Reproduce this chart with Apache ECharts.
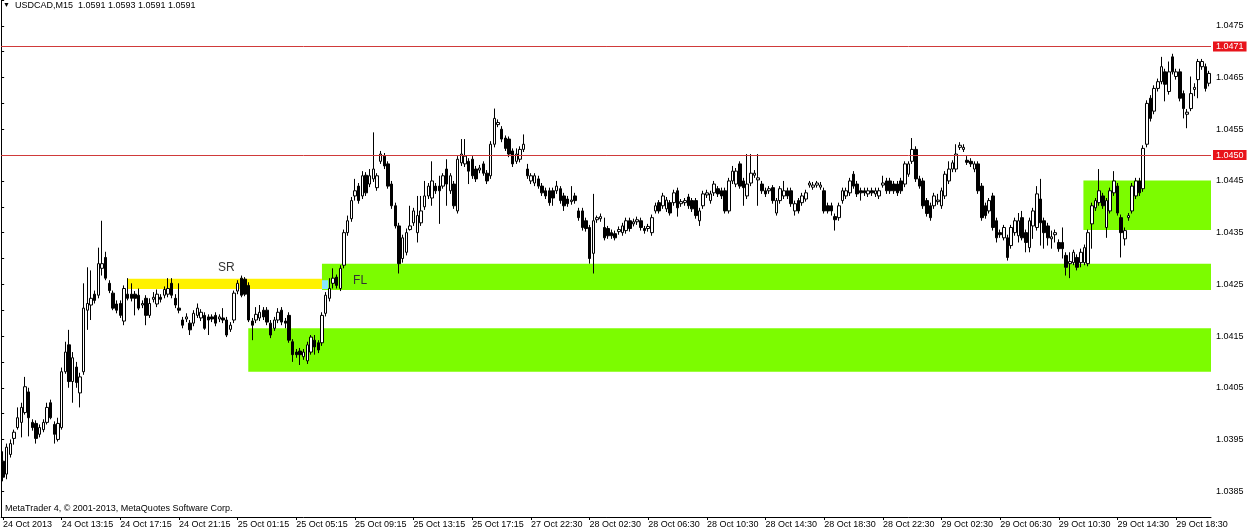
<!DOCTYPE html>
<html>
<head>
<meta charset="utf-8">
<script src="https://cdn.jsdelivr.net/npm/echarts@6/dist/echarts.min.js"></script>
<style>
html,body{margin:0;padding:0;background:#fff;}
#chart{width:1247px;height:530px;}
</style>
</head>
<body>
<div id="chart"></div>
<script>
// ---- Candle data (USDCAD, M15) ----
const opens = [
1.03908,1.03883,1.03921,1.03952,1.03973,1.03983,1.04002,1.04042,1.03983,1.03981,
1.03960,1.03969,1.03983,1.04021,1.03979,1.03950,1.03973,1.04081,1.04133,1.04062,
1.04090,1.04040,1.04081,1.04200,1.04210,1.04231,1.04229,1.04281,1.04302,1.04252,
1.04233,1.04212,1.04213,1.04179,1.04231,1.04231,1.04231,1.04229,1.04210,1.04223,
1.04190,1.04221,1.04212,1.04225,1.04229,1.04231,1.04252,1.04223,1.04204,1.04181,
1.04183,1.04175,1.04175,1.04190,1.04185,1.04190,1.04187,1.04187,1.04190,1.04183,
1.04185,1.04181,1.04163,1.04181,1.04237,1.04262,1.04260,1.04248,1.04179,1.04181,
1.04185,1.04200,1.04200,1.04175,1.04165,1.04181,1.04200,1.04179,1.04190,1.04139,
1.04119,1.04121,1.04110,1.04102,1.04119,1.04142,1.04137,1.04137,1.04194,1.04223,
1.04252,1.04264,1.04242,1.04287,1.04350,1.04377,1.04421,1.04440,1.04421,1.04461,
1.04444,1.04454,1.04437,1.04488,1.04498,1.04483,1.04444,1.04402,1.04363,1.04300,
1.04312,1.04356,1.04369,1.04350,1.04369,1.04400,1.04421,1.04417,1.04440,1.04440,
1.04440,1.04473,1.04431,1.04444,1.04392,1.04485,1.04483,1.04488,1.04492,1.04473,
1.04471,1.04483,1.04465,1.04460,1.04521,1.04559,1.04550,1.04533,1.04531,1.04508,
1.04488,1.04492,1.04511,1.04473,1.04450,1.04446,1.04454,1.04440,1.04431,1.04431,
1.04431,1.04431,1.04435,1.04421,1.04415,1.04410,1.04421,1.04392,1.04392,1.04373,
1.04360,1.04310,1.04375,1.04377,1.04360,1.04358,1.04350,1.04348,1.04352,1.04350,
1.04354,1.04373,1.04367,1.04371,1.04373,1.04358,1.04358,1.04350,1.04392,1.04408,
1.04402,1.04396,1.04408,1.04408,1.04431,1.04406,1.04408,1.04419,1.04412,1.04412,
1.04373,1.04402,1.04423,1.04412,1.04427,1.04435,1.04431,1.04431,1.04392,1.04450,
1.04444,1.04483,1.04450,1.04421,1.04446,1.04461,1.04452,1.04444,1.04431,1.04431,
1.04437,1.04388,1.04412,1.04421,1.04431,1.04431,1.04392,1.04412,1.04408,1.04415,
1.04442,1.04438,1.04442,1.04438,1.04431,1.04402,1.04402,1.04381,1.04379,1.04412,
1.04421,1.04427,1.04463,1.04444,1.04431,1.04431,1.04425,1.04431,1.04425,1.04421,
1.04442,1.04450,1.04450,1.04444,1.04444,1.04450,1.04444,1.04463,1.04488,1.04511,
1.04454,1.04450,1.04412,1.04402,1.04402,1.04410,1.04402,1.04421,1.04450,1.04473,
1.04473,1.04515,1.04511,1.04490,1.04488,1.04473,1.04483,1.04440,1.04402,1.04392,
1.04421,1.04373,1.04350,1.04340,1.04340,1.04325,1.04350,1.04344,1.04379,1.04350,
1.04321,1.04363,1.04360,1.04415,1.04373,1.04363,1.04338,1.04346,1.04331,1.04331,
1.04306,1.04290,1.04292,1.04302,1.04292,1.04292,1.04290,1.04367,1.04398,1.04408,
1.04421,1.04360,1.04392,1.04427,1.04440,1.04379,1.04338,1.04379,1.04392,1.04421,
1.04450,1.04435,1.04521,1.04610,1.04585,1.04629,1.04642,1.04661,1.04623,1.04690,
1.04652,1.04661,1.04619,1.04579,1.04590,1.04627,1.04646,1.04671,1.04671,1.04639
];
const closes = [
1.03877,1.03935,1.03942,1.03964,1.03992,1.04012,1.04052,1.03992,1.03973,1.03952,
1.03973,1.03983,1.04012,1.03992,1.03960,1.03981,1.04081,1.04119,1.04062,1.04108,
1.04060,1.04071,1.04204,1.04213,1.04223,1.04219,1.04290,1.04290,1.04262,1.04238,
1.04204,1.04200,1.04190,1.04242,1.04223,1.04223,1.04223,1.04204,1.04213,1.04190,
1.04213,1.04225,1.04231,1.04221,1.04240,1.04242,1.04229,1.04210,1.04200,1.04171,
1.04187,1.04162,1.04194,1.04204,1.04196,1.04165,1.04181,1.04183,1.04175,1.04187,
1.04181,1.04152,1.04171,1.04233,1.04252,1.04229,1.04231,1.04181,1.04171,1.04192,
1.04196,1.04187,1.04177,1.04152,1.04181,1.04196,1.04177,1.04175,1.04142,1.04114,
1.04114,1.04114,1.04119,1.04133,1.04148,1.04129,1.04123,1.04190,1.04229,1.04242,
1.04262,1.04248,1.04281,1.04350,1.04373,1.04412,1.04431,1.04412,1.04460,1.04427,
1.04460,1.04473,1.04460,1.04502,1.04479,1.04440,1.04402,1.04363,1.04290,1.04340,
1.04350,1.04363,1.04392,1.04383,1.04392,1.04421,1.04440,1.04450,1.04431,1.04431,
1.04460,1.04444,1.04460,1.04402,1.04492,1.04502,1.04498,1.04469,1.04460,1.04454,
1.04475,1.04465,1.04450,1.04521,1.04571,1.04563,1.04531,1.04513,1.04502,1.04483,
1.04502,1.04511,1.04521,1.04460,1.04460,1.04460,1.04440,1.04427,1.04421,1.04408,
1.04417,1.04440,1.04412,1.04402,1.04406,1.04413,1.04412,1.04379,1.04360,1.04358,
1.04300,1.04373,1.04379,1.04381,1.04340,1.04344,1.04344,1.04340,1.04356,1.04363,
1.04373,1.04358,1.04371,1.04375,1.04360,1.04354,1.04362,1.04379,1.04402,1.04392,
1.04421,1.04413,1.04388,1.04427,1.04398,1.04410,1.04412,1.04402,1.04396,1.04383,
1.04392,1.04425,1.04427,1.04425,1.04444,1.04425,1.04421,1.04392,1.04450,1.04469,
1.04469,1.04440,1.04437,1.04444,1.04465,1.04465,1.04456,1.04431,1.04425,1.04435,
1.04412,1.04412,1.04435,1.04431,1.04421,1.04406,1.04406,1.04392,1.04421,1.04427,
1.04446,1.04442,1.04446,1.04442,1.04392,1.04392,1.04392,1.04375,1.04402,1.04431,
1.04431,1.04450,1.04440,1.04425,1.04427,1.04427,1.04431,1.04427,1.04431,1.04431,
1.04446,1.04431,1.04431,1.04431,1.04427,1.04431,1.04483,1.04483,1.04511,1.04454,
1.04440,1.04402,1.04387,1.04379,1.04421,1.04413,1.04431,1.04463,1.04473,1.04485,
1.04502,1.04519,1.04515,1.04486,1.04483,1.04483,1.04431,1.04379,1.04383,1.04412,
1.04360,1.04340,1.04346,1.04360,1.04302,1.04360,1.04373,1.04373,1.04340,1.04331,
1.04373,1.04392,1.04425,1.04369,1.04350,1.04340,1.04342,1.04350,1.04319,1.04319,
1.04283,1.04294,1.04312,1.04283,1.04312,1.04321,1.04350,1.04402,1.04412,1.04431,
1.04402,1.04412,1.04431,1.04450,1.04388,1.04350,1.04354,1.04383,1.04440,1.04450,
1.04427,1.04513,1.04600,1.04571,1.04629,1.04642,1.04671,1.04637,1.04661,1.04661,
1.04661,1.04610,1.04590,1.04583,1.04619,1.04631,1.04681,1.04681,1.04629,1.04658
];
const lows = [
1.03869,1.03873,1.03915,1.03940,1.03969,1.03954,1.03998,1.03956,1.03967,1.03942,
1.03954,1.03964,1.03979,1.03989,1.03942,1.03946,1.03969,1.04077,1.04050,1.04021,
1.04050,1.04012,1.04075,1.04162,1.04181,1.04213,1.04223,1.04267,1.04258,1.04233,
1.04200,1.04194,1.04185,1.04171,1.04219,1.04217,1.04190,1.04200,1.04204,1.04171,
1.04185,1.04215,1.04206,1.04215,1.04223,1.04225,1.04223,1.04204,1.04194,1.04165,
1.04177,1.04152,1.04169,1.04185,1.04179,1.04162,1.04152,1.04177,1.04169,1.04177,
1.04175,1.04148,1.04158,1.04175,1.04231,1.04225,1.04227,1.04177,1.04142,1.04175,
1.04179,1.04181,1.04171,1.04146,1.04160,1.04175,1.04171,1.04165,1.04137,1.04100,
1.04108,1.04094,1.04104,1.04096,1.04114,1.04114,1.04117,1.04131,1.04188,1.04217,
1.04242,1.04242,1.04237,1.04281,1.04344,1.04371,1.04412,1.04406,1.04415,1.04421,
1.04438,1.04448,1.04431,1.04483,1.04473,1.04435,1.04396,1.04358,1.04271,1.04292,
1.04306,1.04354,1.04363,1.04331,1.04363,1.04394,1.04415,1.04402,1.04425,1.04367,
1.04435,1.04402,1.04425,1.04396,1.04387,1.04479,1.04477,1.04444,1.04454,1.04448,
1.04465,1.04460,1.04444,1.04454,1.04515,1.04554,1.04525,1.04508,1.04496,1.04477,
1.04483,1.04486,1.04506,1.04454,1.04444,1.04440,1.04435,1.04421,1.04415,1.04402,
1.04402,1.04425,1.04406,1.04392,1.04400,1.04404,1.04406,1.04373,1.04354,1.04352,
1.04290,1.04271,1.04369,1.04371,1.04335,1.04338,1.04338,1.04335,1.04346,1.04344,
1.04348,1.04352,1.04362,1.04365,1.04354,1.04348,1.04352,1.04344,1.04387,1.04387,
1.04396,1.04390,1.04383,1.04402,1.04381,1.04400,1.04402,1.04396,1.04390,1.04377,
1.04363,1.04396,1.04417,1.04406,1.04421,1.04419,1.04415,1.04387,1.04387,1.04444,
1.04438,1.04435,1.04402,1.04415,1.04440,1.04456,1.04402,1.04425,1.04419,1.04425,
1.04406,1.04383,1.04406,1.04415,1.04415,1.04400,1.04383,1.04387,1.04402,1.04410,
1.04437,1.04433,1.04437,1.04433,1.04387,1.04387,1.04383,1.04354,1.04373,1.04406,
1.04415,1.04421,1.04435,1.04419,1.04412,1.04421,1.04419,1.04421,1.04419,1.04415,
1.04437,1.04425,1.04425,1.04425,1.04421,1.04425,1.04438,1.04458,1.04483,1.04448,
1.04435,1.04396,1.04381,1.04373,1.04396,1.04404,1.04396,1.04415,1.04444,1.04467,
1.04467,1.04510,1.04506,1.04481,1.04477,1.04467,1.04425,1.04373,1.04377,1.04387,
1.04354,1.04331,1.04340,1.04335,1.04296,1.04319,1.04344,1.04331,1.04335,1.04312,
1.04312,1.04338,1.04354,1.04325,1.04319,1.04325,1.04319,1.04331,1.04313,1.04300,
1.04267,1.04262,1.04287,1.04277,1.04283,1.04287,1.04285,1.04319,1.04392,1.04402,
1.04396,1.04340,1.04387,1.04421,1.04383,1.04302,1.04325,1.04373,1.04387,1.04415,
1.04421,1.04429,1.04515,1.04565,1.04579,1.04623,1.04637,1.04604,1.04617,1.04656,
1.04646,1.04604,1.04571,1.04552,1.04585,1.04614,1.04610,1.04665,1.04623,1.04633
];
const highs = [
1.03927,1.03942,1.03950,1.03969,1.04012,1.04021,1.04071,1.04050,1.03989,1.03987,
1.03979,1.03989,1.04021,1.04027,1.03985,1.03992,1.04089,1.04139,1.04162,1.04119,
1.04100,1.04079,1.04252,1.04283,1.04277,1.04238,1.04321,1.04373,1.04313,1.04258,
1.04238,1.04219,1.04219,1.04248,1.04262,1.04252,1.04237,1.04242,1.04219,1.04229,
1.04223,1.04235,1.04240,1.04231,1.04246,1.04262,1.04262,1.04231,1.04252,1.04187,
1.04194,1.04181,1.04200,1.04213,1.04202,1.04196,1.04192,1.04192,1.04196,1.04192,
1.04204,1.04187,1.04177,1.04238,1.04258,1.04267,1.04264,1.04254,1.04185,1.04206,
1.04210,1.04206,1.04206,1.04181,1.04187,1.04204,1.04206,1.04185,1.04196,1.04144,
1.04125,1.04127,1.04125,1.04139,1.04152,1.04152,1.04142,1.04196,1.04235,1.04262,
1.04281,1.04269,1.04287,1.04356,1.04383,1.04419,1.04454,1.04446,1.04469,1.04467,
1.04473,1.04544,1.04465,1.04508,1.04504,1.04488,1.04450,1.04408,1.04369,1.04346,
1.04358,1.04402,1.04398,1.04421,1.04421,1.04450,1.04446,1.04488,1.04446,1.04460,
1.04465,1.04492,1.04465,1.04450,1.04498,1.04531,1.04531,1.04494,1.04498,1.04479,
1.04481,1.04488,1.04471,1.04527,1.04590,1.04569,1.04556,1.04538,1.04536,1.04513,
1.04513,1.04517,1.04540,1.04483,1.04465,1.04465,1.04460,1.04446,1.04437,1.04437,
1.04437,1.04450,1.04440,1.04427,1.04421,1.04440,1.04427,1.04398,1.04398,1.04379,
1.04365,1.04425,1.04383,1.04387,1.04379,1.04363,1.04356,1.04354,1.04362,1.04369,
1.04379,1.04379,1.04377,1.04381,1.04379,1.04363,1.04367,1.04385,1.04408,1.04413,
1.04427,1.04419,1.04413,1.04433,1.04437,1.04415,1.04417,1.04425,1.04417,1.04417,
1.04398,1.04431,1.04433,1.04431,1.04450,1.04440,1.04437,1.04437,1.04456,1.04479,
1.04475,1.04488,1.04456,1.04502,1.04502,1.04471,1.04502,1.04450,1.04437,1.04440,
1.04442,1.04417,1.04440,1.04450,1.04437,1.04437,1.04412,1.04417,1.04427,1.04433,
1.04450,1.04448,1.04450,1.04448,1.04437,1.04408,1.04408,1.04387,1.04408,1.04437,
1.04437,1.04456,1.04469,1.04450,1.04437,1.04437,1.04437,1.04437,1.04437,1.04437,
1.04460,1.04456,1.04456,1.04450,1.04450,1.04456,1.04488,1.04488,1.04533,1.04517,
1.04460,1.04456,1.04417,1.04408,1.04427,1.04425,1.04437,1.04469,1.04488,1.04490,
1.04521,1.04525,1.04521,1.04498,1.04494,1.04488,1.04488,1.04446,1.04408,1.04417,
1.04427,1.04379,1.04356,1.04365,1.04346,1.04365,1.04379,1.04388,1.04392,1.04356,
1.04379,1.04398,1.04440,1.04454,1.04379,1.04369,1.04354,1.04356,1.04337,1.04360,
1.04312,1.04312,1.04317,1.04308,1.04319,1.04327,1.04356,1.04408,1.04417,1.04473,
1.04427,1.04417,1.04437,1.04469,1.04446,1.04385,1.04360,1.04388,1.04446,1.04456,
1.04456,1.04519,1.04606,1.04616,1.04635,1.04648,1.04690,1.04667,1.04681,1.04696,
1.04667,1.04667,1.04625,1.04589,1.04652,1.04639,1.04686,1.04686,1.04677,1.04663
];

// ---- Time axis ----
const tickLabels = [
'24 Oct 2013','24 Oct 13:15','24 Oct 17:15','24 Oct 21:15','25 Oct 01:15','25 Oct 05:15',
'25 Oct 09:15','25 Oct 13:15','25 Oct 17:15','27 Oct 22:30','28 Oct 02:30','28 Oct 06:30',
'28 Oct 10:30','28 Oct 14:30','28 Oct 18:30','28 Oct 22:30','29 Oct 02:30','29 Oct 06:30',
'29 Oct 10:30','29 Oct 14:30','29 Oct 18:30'
];
const barsPerTick = 16;
const sessionStart = Date.UTC(2013, 9, 24, 9, 15);
const fridayClose = Date.UTC(2013, 9, 25, 21, 0);
const sundayOpen = Date.UTC(2013, 9, 27, 22, 15);

// ---- Price levels and zones ----
const levelPrices = [1.0471, 1.0450];
const zoneNames   = ['FL', 'Zone low', 'Zone high', 'SR', 'FL start'];
const zoneFromBar = [87.5, 67.4, 295.2, 34.4, 87.5];
const zoneToBar   = [330, 330, 330, 87.5, 89.2];
const zoneTop     = [1.04290, 1.04165, 1.04451, 1.04261, 1.04258];
const zoneBottom  = [1.04239, 1.04081, 1.04355, 1.04241, 1.04241];
const textLabels  = ['SR', 'FL'];
const textBar     = [61.4, 97.9];
const textPrice   = [1.04282, 1.04257];

// ---- Build ----
const MONTHS = ['Jan','Feb','Mar','Apr','May','Jun','Jul','Aug','Sep','Oct','Nov','Dec'];
function pad(n){ return (n < 10 ? '0' : '') + n; }
const categories = [];
let t = sessionStart;
for (let i = 0; i < opens.length; i++) {
  if (t === fridayClose) t = sundayOpen;
  const d = new Date(t);
  categories.push(d.getUTCDate() + ' ' + MONTHS[d.getUTCMonth()] + ' ' + pad(d.getUTCHours()) + ':' + pad(d.getUTCMinutes()));
  t += 15 * 60000;
}
const candleData = opens.map((o, i) => [o, closes[i], lows[i], highs[i]]);

const zoneColors = ['#7cfc00', '#7cfc00', '#7cfc00', '#fff200', '#8ae6ff'];
const areaData = zoneNames.map((n, i) => [
  { name: '', xAxis: zoneFromBar[i], yAxis: zoneTop[i], itemStyle: { color: zoneColors[i], opacity: 1 } },
  { xAxis: zoneToBar[i], yAxis: zoneBottom[i] }
]);

const FONT = '"Liberation Sans", Arial, sans-serif';
const chart = echarts.init(document.getElementById('chart'));
chart.setOption({
  animation: false,
  backgroundColor: '#ffffff',
  title: [
    { text: '{t|▼}  USDCAD,M15  1.0591 1.0593 1.0591 1.0591', left: 3, top: 1, padding: 0,
      textStyle: { fontSize: 9, fontWeight: 'normal', fontFamily: FONT, color: '#000',
        rich: { t: { fontSize: 7, color: '#000' } } } },
    { text: 'MetaTrader 4, © 2001-2013, MetaQuotes Software Corp.', left: 5, top: 504, padding: 0,
      textStyle: { fontSize: 9, fontWeight: 'normal', fontFamily: FONT, color: '#000' } }
  ],
  grid: { left: 1, right: 36, top: -2, bottom: 13 },
  xAxis: [
    { type: 'category', data: categories, boundaryGap: true,
      axisLine: { show: true, lineStyle: { color: '#000', width: 1 } },
      axisTick: { show: true, alignWithLabel: true, length: 3, interval: (i) => i % barsPerTick === 0, lineStyle: { color: '#000' } },
      axisLabel: { interval: (i) => i % barsPerTick === 0,
        formatter: (v, i) => tickLabels[Math.round(i / barsPerTick)] || '',
        align: 'left', margin: 3, fontSize: 9, color: '#000', fontFamily: FONT },
      splitLine: { show: false } },
    { type: 'value', min: 0, max: opens.length, show: false, gridIndex: 0 }
  ],
  yAxis: [
    { type: 'value', position: 'right', min: 1.0380, max: 1.0480, interval: 0.0005,
      axisLine: { show: true, lineStyle: { color: '#000', width: 1 } },
      axisTick: { show: true, length: 3, lineStyle: { color: '#000' } },
      axisLabel: { margin: 5, fontSize: 9, color: '#000', fontFamily: FONT,
        formatter: (v) => (Math.round(v * 10000) % 10 === 5 ? v.toFixed(4) : '') },
      splitLine: { show: false } },
    { type: 'value', position: 'left', min: 1.0380, max: 1.0480,
      axisLine: { show: true, lineStyle: { color: '#000', width: 1 } },
      axisTick: { show: false }, axisLabel: { show: false }, splitLine: { show: false } }
  ],
  series: [
    { type: 'line', name: 'zones', xAxisIndex: 1, yAxisIndex: 0, data: [], z: 1, silent: true,
      markArea: { silent: true, data: areaData },
      markPoint: { silent: true, symbol: 'circle', symbolSize: 1,
        itemStyle: { color: 'rgba(0,0,0,0)' },
        label: { show: true, position: 'inside', formatter: '{b}', color: '#333', fontSize: 12, fontFamily: FONT },
        data: textLabels.map((s, i) => ({ name: s, coord: [textBar[i], textPrice[i]] })) } },
    { type: 'candlestick', name: 'USDCAD', xAxisIndex: 0, yAxisIndex: 0, data: candleData, z: 3,
      barWidth: 3,
      itemStyle: { color: '#ffffff', color0: '#000000', borderColor: '#000000', borderColor0: '#000000', borderWidth: 1 },
      markLine: { silent: true, symbol: 'none', z: 8, animation: false, precision: 5,
        lineStyle: { color: '#d03a3a', width: 1, type: 'solid' },
        label: { show: true, position: 'end', distance: 2, color: '#fff', backgroundColor: '#e8141b',
          padding: [1, 3, 0, 3], fontSize: 9, fontFamily: FONT },
        data: levelPrices.map(p => ({ yAxis: p, label: { formatter: p.toFixed(4) } })) } }
  ]
});
</script>
</body>
</html>
